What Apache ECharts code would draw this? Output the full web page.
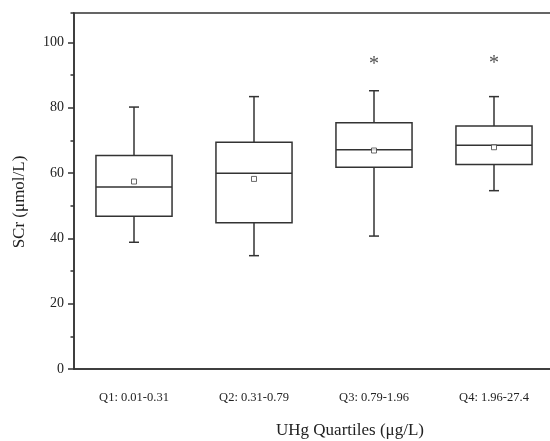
<!DOCTYPE html>
<html>
<head>
<meta charset="utf-8">
<script src="https://cdn.jsdelivr.net/npm/echarts@6/dist/echarts.min.js"></script>
<style>
  html, body { margin: 0; padding: 0; background: #fff; }
  #chart { width: 550px; height: 441px; }
</style>
</head>
<body>
<div id="chart"></div>
<script>
// UHg quartile groups
const categories = ['Q1: 0.01-0.31', 'Q2: 0.31-0.79', 'Q3: 0.79-1.96', 'Q4: 1.96-27.4'];
// box plot statistics, SCr in umol/L
const whiskerLow = [38.8, 34.7, 40.7, 54.6];
const boxLow = [46.8, 44.8, 61.8, 62.6];
const medians = [55.7, 59.9, 67.1, 68.5];
const boxHigh = [65.4, 69.4, 75.4, 74.4];
const whiskerHigh = [80.2, 83.4, 85.2, 83.4];
const means = [57.4, 58.2, 66.9, 67.9];
// significance asterisks (null = none)
const sigMarks = [null, null, 93.3, 93.6];

const FONT = '"Liberation Serif", "Times New Roman", serif';
const INK = '#333';

function initChart() {
  const chart = echarts.init(document.getElementById('chart'));

  const boxData = categories.map((c, i) =>
    [i, whiskerLow[i], boxLow[i], medians[i], boxHigh[i], whiskerHigh[i]]);

  const option = {
    animation: false,
    backgroundColor: '#fff',
    grid: {
      left: 74, top: 13, width: 480, bottom: 72,
      outerBoundsMode: 'none',
      containLabel: false,
      show: true, borderColor: INK, borderWidth: 1.5, backgroundColor: 'transparent'
    },
    xAxis: {
      type: 'category',
      data: categories,
      boundaryGap: true,
      axisLine: { lineStyle: { color: INK, width: 1.5 } },
      axisTick: { alignWithLabel: true, length: 6, lineStyle: { color: INK, width: 1.5 } },
      axisLabel: { fontFamily: FONT, fontSize: 12.5, color: '#222', margin: 22 },
      name: 'UHg Quartiles (μg/L)',
      nameLocation: 'middle',
      nameGap: 53,
      nameTextStyle: { fontFamily: FONT, fontSize: 17, color: '#222', padding: [0, 0, 0, 72] }
    },
    yAxis: [
      {
        type: 'value',
        position: 'left',
        min: 0, max: 109, interval: 20,
        splitLine: { show: false },
        axisLine: { show: true, lineStyle: { color: INK, width: 1.5 } },
        axisTick: { show: true, length: 6, lineStyle: { color: INK, width: 1.5 } },
        axisLabel: { fontFamily: FONT, fontSize: 14, color: '#222', margin: 10, showMaxLabel: false },
        name: 'SCr (μmol/L)',
        nameLocation: 'middle',
        nameGap: 46,
        nameTextStyle: { fontFamily: FONT, fontSize: 17, color: '#222', padding: [0, 22, 0, 0] }
      },
      {
        type: 'value',
        position: 'left',
        min: 0, max: 109, interval: 10,
        splitLine: { show: false },
        axisLine: { show: false },
        axisTick: { show: true, length: 3.5, lineStyle: { color: INK, width: 1.5 } },
        axisLabel: { show: false }
      }
    ],
    series: [
      {
        type: 'custom',
        data: boxData,
        encode: { x: 0, y: [1, 2, 3, 4, 5] },
        renderItem: function (params, api) {
          const idx = api.value(0);
          const bandW = api.size([1, 0])[0];
          const halfW = bandW * 0.317;
          const cap = 5;
          const lo = api.coord([idx, api.value(1)]);
          const b1 = api.coord([idx, api.value(2)]);
          const md = api.coord([idx, api.value(3)]);
          const b3 = api.coord([idx, api.value(4)]);
          const hi = api.coord([idx, api.value(5)]);
          const x = lo[0];
          const style = { stroke: INK, lineWidth: 1.5, fill: null };
          return {
            type: 'group',
            children: [
              { type: 'rect', shape: { x: x - halfW, y: b3[1], width: halfW * 2, height: b1[1] - b3[1] }, style: style },
              { type: 'line', shape: { x1: x - halfW, y1: md[1], x2: x + halfW, y2: md[1] }, style: style },
              { type: 'line', shape: { x1: x, y1: b3[1], x2: x, y2: hi[1] }, style: style },
              { type: 'line', shape: { x1: x, y1: b1[1], x2: x, y2: lo[1] }, style: style },
              { type: 'line', shape: { x1: x - cap, y1: hi[1], x2: x + cap, y2: hi[1] }, style: style },
              { type: 'line', shape: { x1: x - cap, y1: lo[1], x2: x + cap, y2: lo[1] }, style: style }
            ]
          };
        }
      },
      {
        type: 'scatter',
        data: means,
        symbol: 'rect',
        symbolSize: 5,
        itemStyle: { color: '#fff', borderColor: '#444', borderWidth: 1 },
        z: 5
      },
      {
        type: 'scatter',
        data: sigMarks,
        symbolSize: 0.1,
        itemStyle: { color: 'transparent' },
        label: {
          show: true, position: 'inside', formatter: '*',
          fontFamily: FONT, fontSize: 20, color: '#222'
        }
      }
    ]
  };
  chart.setOption(option);
}

document.addEventListener('DOMContentLoaded', initChart);
</script>
</body>
</html>
